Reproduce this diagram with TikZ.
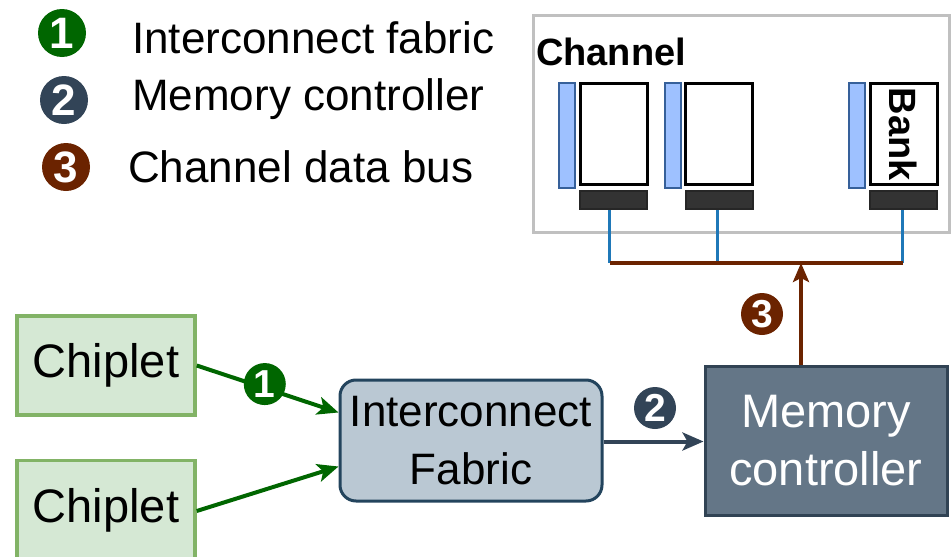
\documentclass[tikz,border=0pt]{standalone}
\usepackage{fontspec}
\setmainfont{Liberation Sans}
\usetikzlibrary{arrows.meta,calc}

\definecolor{fabgreen}{HTML}{006600}
\definecolor{chipfill}{HTML}{D5E8D4}
\definecolor{chipline}{HTML}{82B366}
\definecolor{icfill}{HTML}{BAC8D3}
\definecolor{icline}{HTML}{23445D}
\definecolor{mcfill}{HTML}{647687}
\definecolor{mcline}{HTML}{314354}
\definecolor{slate}{HTML}{324457}
\definecolor{busbrown}{HTML}{6B2300}
\definecolor{wireblue}{HTML}{1F78B8}
\definecolor{rowfill}{HTML}{9EC1FF}
\definecolor{rowline}{HTML}{36609A}
\definecolor{senseamp}{HTML}{333333}
\definecolor{chanline}{HTML}{C0C0C0}

\newcommand{\fs}[2]{\fontsize{#1}{#2}\selectfont}

\tikzset{
  chiplet/.style={draw=chipline, fill=chipfill, line width=3.5pt,
    minimum width=178pt, minimum height=99pt, inner sep=0pt,
    font=\fs{47}{50}},
  fabric/.style={draw=icline, fill=icfill, line width=3pt, rounded corners=16pt,
    minimum width=262pt, minimum height=121pt, inner sep=0pt, align=center,
    font=\fs{44}{58}},
  mcbox/.style={draw=mcline, fill=mcfill, line width=3pt,
    minimum width=242pt, minimum height=149pt, inner sep=0pt, align=center,
    text=white, font=\fs{47}{58}},
  badge/.style={circle, fill=#1, text=white, inner sep=0pt,
    minimum size=42pt, font=\bfseries\fs{39}{39}},
  legbadge/.style={badge=#1, minimum size=48pt, font=\bfseries\fs{44}{44}},
  legtext/.style={anchor=base west, inner sep=0pt, font=\fs{44}{44}},
  bankbox/.style={draw=black, fill=white, line width=3pt,
    minimum width=67pt, minimum height=101pt, inner sep=0pt},
  rowbuf/.style={draw=rowline, fill=rowfill, line width=2pt,
    minimum width=16pt, minimum height=105pt, inner sep=0pt},
  sabar/.style={draw=black!85, fill=senseamp, line width=2pt,
    minimum width=67pt, minimum height=18pt, inner sep=0pt},
  greenarrow/.style={draw=fabgreen, line width=4pt,
    -{Stealth[length=21pt,width=18pt,inset=5pt]}},
  slatearrow/.style={draw=slate, line width=4pt,
    -{Stealth[length=21pt,width=18pt,inset=5pt]}},
  brownarrow/.style={draw=busbrown, line width=4pt,
    -{Stealth[length=19pt,width=16pt,inset=4pt]}},
  wire/.style={draw=wireblue, line width=3pt},
  bus/.style={draw=busbrown, line width=4pt},
}

\begin{document}
\begin{tikzpicture}[x=1pt,y=-1pt]
\useasboundingbox (0,0) rectangle (951,557);

% legend
\node[legbadge=fabgreen] (l1) at (62,33) {1};
\node[legbadge=slate]    (l2) at (64,100) {2};
\node[legbadge=busbrown] (l3) at (66,167) {3};
\node[legtext] (t1) at (132,53) {Interconnect fabric};
\node[legtext] (t2) at (132,110) {Memory controller};
\node[legtext] (t3) at (128,182) {Channel data bus};

% channel with its banks
\node[draw=chanline, line width=3pt, minimum width=416pt, minimum height=217pt,
      inner sep=0pt] (chan) at (741,123.5) {};
\node[anchor=base west, inner sep=0pt, font=\bfseries\fs{38}{38}] (chanlbl) at (536,65) {Channel};

\node[rowbuf]  (r1) at (566.5,135.5) {};
\node[bankbox] (b1) at (613.5,133.5) {};
\node[sabar]   (s1) at (613.5,200) {};
\node[rowbuf]  (r2) at (672.5,135.5) {};
\node[bankbox] (b2) at (719,133.5) {};
\node[sabar]   (s2) at (719,200) {};
\node[rowbuf]  (r3) at (856.5,135.5) {};
\node[bankbox] (b3) at (903.5,133.5) {};
\node[sabar]   (s3) at (903.5,200) {};
\node[rotate=-90, anchor=west, inner sep=0pt, font=\bfseries\fs{38}{38}]
  (banklbl) at ([yshift=-6pt]b3.north) {Bank};

% data bus
\coordinate (busy) at (0,263);
\coordinate (tap)  at (801,263);
\draw[wire] ([xshift=-4pt]s1.south) -- ([xshift=-4pt]s1.south |- busy) coordinate (bus1);
\draw[wire] ([xshift=-2pt]s2.south) -- ([xshift=-2pt]s2.south |- busy) coordinate (bus2);
\draw[wire] ([xshift=-1pt]s3.south) -- ([xshift=-1pt]s3.south |- busy) coordinate (bus3);
\draw[bus] (bus1) -- (bus3);

% processing side
\node[chiplet] (c1) at (106,365.5) {Chiplet};
\node[chiplet] (c2) at (106,510) {Chiplet};
\node[fabric]  (ic) at (471,440.5) {Interconnect\\Fabric};
\node[mcbox]   (mc) at (826,440.5) {Memory\\controller};

\draw[greenarrow] (c1.east) -- node[badge=fabgreen, pos=0.48, yshift=4pt] (n1) {1} ([yshift=28pt]ic.west);
\draw[greenarrow] ([yshift=-1pt]c2.east) -- ([yshift=-26pt]ic.west);
\draw[slatearrow] ([yshift=-1pt]ic.east) -- ([yshift=-1pt]mc.west);
\node[badge=slate] (n2) at (655,408) {2};
\draw[brownarrow] (mc.north -| tap) -- (tap);
\node[badge=busbrown] (n3) at (762,314) {3};
\end{tikzpicture}
\end{document}
